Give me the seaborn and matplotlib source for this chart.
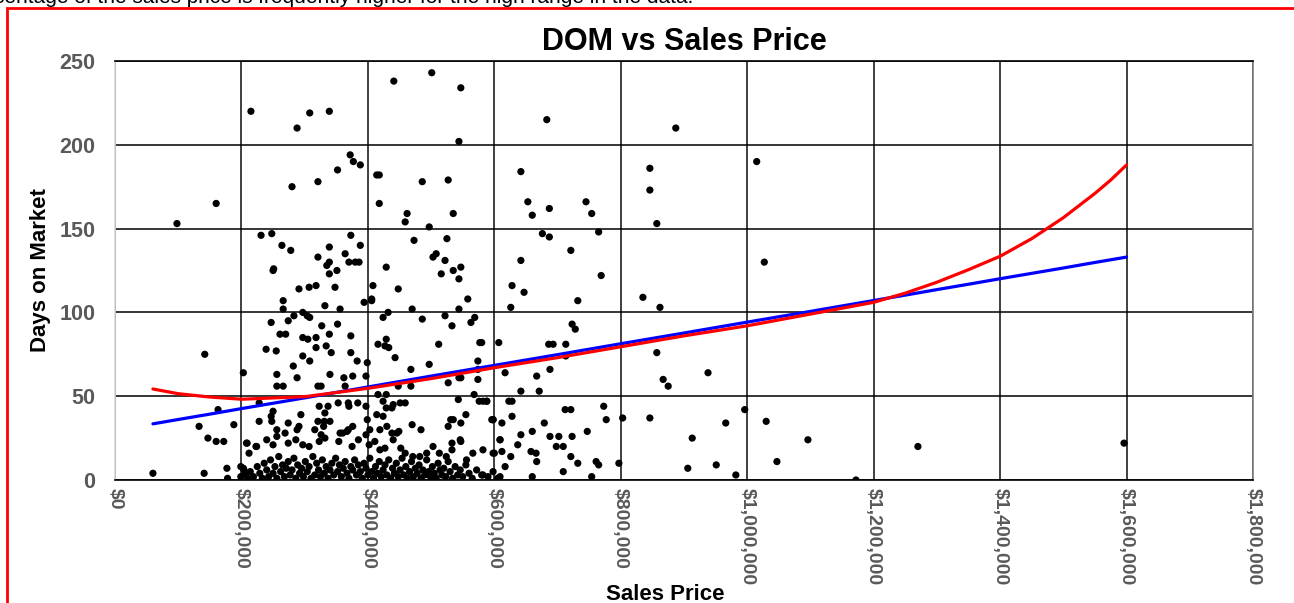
import matplotlib
matplotlib.use("Agg")
import matplotlib.pyplot as plt
import matplotlib.ticker as mticker
from matplotlib.patches import Rectangle
import pandas as pd
import seaborn as sns

# Sales price in thousands of dollars, days on market
price_k = [
    60, 98, 160, 142, 203, 163, 133, 147, 160, 172, 188, 141, 177, 199, 215, 208, 212, 207, 224,
    308, 339, 288, 441, 501, 547, 544, 372, 377, 388, 352, 321, 280, 414, 418, 486, 527, 418,
    462, 459, 497, 535, 231, 248, 264, 278, 339, 373, 388, 364, 321, 473, 525, 503, 508,
    335, 339, 370, 380, 386, 251, 250, 339, 351, 522, 429, 535, 547, 516, 544,
    291, 307, 318, 348, 408, 448, 266, 266, 332, 356, 394, 406, 406, 470, 558, 544,
    283, 297, 304, 308, 274, 247, 327, 352, 424, 432, 486, 522, 533, 563, 569,
    261, 270, 297, 305, 318, 339, 373, 429, 416, 427, 433, 512, 577,
    239, 255, 297, 308, 318, 334, 342, 373, 383, 443, 399, 282, 468, 497, 574, 574, 544,
    256, 288, 340, 362, 376, 397, 256, 266, 321, 326, 364, 448, 468, 527, 547, 574, 568,
    416, 429, 228, 178, 199, 203, 204, 250, 247, 248, 228, 274, 294, 323, 337, 332,
    353, 369, 370, 384, 397, 399, 424, 429, 438, 440, 451, 459, 543, 576, 588, 414, 424,
    321, 331, 340, 555, 531, 596, 291, 288, 256, 330, 316, 376, 367, 356, 403, 419, 430,
    438, 449, 470, 484, 527, 535, 547, 547, 533, 609, 598, 209, 223,
    240, 250, 256, 269, 274, 286, 297, 307, 323, 326, 332, 354, 360, 369, 375, 385, 397,
    402, 411, 419, 427, 440, 446, 452, 459, 471, 482, 493, 503, 513, 524, 533, 546, 556,
    566, 582, 600,
    683, 887, 642, 846, 846, 857, 1015, 653, 687, 660, 745, 754, 765, 676, 687, 721, 642,
    1027, 769, 628, 647, 732, 626, 835, 862, 723, 728, 580, 607, 686, 693, 713, 713, 617,
    688, 667, 857, 867, 875, 938, 642, 671, 582, 588, 623, 628, 712, 721, 773, 598, 612,
    628, 679, 777, 803, 846, 996, 1030, 966, 642, 660, 688, 702, 723, 747, 609, 637, 698,
    709, 913, 1096, 598, 612, 626, 658, 666, 667, 721, 732, 761, 765, 797, 617, 906, 951,
    1047, 982, 582, 609, 660, 709, 754, 1172, 1270, 1596,
    205, 210, 214, 219, 225, 229, 233, 236, 240, 243, 246, 250, 253, 256, 259, 262, 265,
    268, 271, 274, 277, 280, 283, 286, 289, 292, 295, 298, 301, 304, 307, 310, 313, 316,
    319, 322, 325, 328, 331, 334, 337, 340, 343, 346, 349, 352, 355, 358, 361, 364, 367,
    370, 373, 376, 379, 382, 385, 388, 391, 394, 397, 400, 403, 406, 409, 412, 415, 418,
    421, 424, 427, 430, 433, 436, 439, 442, 445, 448, 451, 454, 457, 460, 463, 466, 469,
    472, 475, 478, 481, 484, 487, 490, 493, 496, 499, 502, 505, 508, 511, 514, 517, 520,
    523, 527, 530, 534, 538, 542, 546, 550, 555, 560, 565, 572, 580, 590, 598, 605,
]
days = [
    4, 153, 165, 75, 64, 42, 32, 25, 23, 23, 33, 4, 7, 8, 220, 22, 16, 4, 20,
    219, 220, 210, 238, 243, 234, 202, 194, 190, 188, 185, 178, 175, 182, 182, 178, 179, 165,
    159, 154, 151, 159, 146, 147, 140, 137, 139, 146, 140, 135, 133, 143, 144, 133, 135,
    128, 130, 130, 130, 130, 126, 125, 123, 125, 131, 127, 125, 127, 123, 120,
    114, 115, 116, 115, 116, 114, 107, 102, 104, 102, 106, 107, 108, 102, 108, 102,
    98, 100, 98, 97, 95, 94, 92, 93, 97, 100, 96, 98, 92, 94, 97,
    87, 87, 85, 84, 85, 87, 86, 84, 81, 80, 79, 81, 82,
    78, 77, 74, 71, 79, 80, 76, 76, 71, 73, 70, 68, 66, 69, 71, 66, 61,
    63, 61, 63, 61, 62, 62, 56, 56, 56, 56, 56, 56, 56, 58, 61, 60, 51,
    51, 51, 46, 1, 2, 7, 6, 41, 38, 35, 35, 34, 39, 44, 44, 40,
    46, 46, 44, 46, 44, 36, 47, 43, 43, 45, 46, 46, 48, 47, 47, 39, 38,
    35, 35, 35, 39, 36, 36, 32, 30, 30, 32, 30, 32, 29, 28, 30, 30, 32,
    28, 29, 33, 30, 32, 36, 34, 23, 22, 24, 36, 22, 20,
    24, 21, 26, 28, 22, 24, 21, 20, 23, 27, 25, 23, 28, 30, 20, 24, 27,
    21, 23, 18, 19, 24, 28, 19, 16, 14, 14, 16, 20, 16, 14, 18, 24, 12,
    16, 18, 16,
    215, 210, 184, 186, 173, 153, 190, 166, 162, 158, 166, 159, 148, 147, 145, 137, 131,
    130, 122, 116, 112, 107, 103, 109, 103, 93, 90, 82, 82, 81, 81, 81, 74, 64,
    66, 62, 76, 60, 56, 64, 53, 53, 47, 47, 47, 47, 42, 42, 44, 36, 34,
    38, 34, 36, 37, 37, 42, 35, 34, 27, 29, 26, 26, 26, 29, 24, 21, 20,
    20, 25, 24, 16, 17, 14, 17, 16, 11, 14, 10, 11, 9, 10, 8, 7, 9,
    11, 3, 3, 2, 2, 5, 2, 0, 20, 22,
    3, 1, 5, 2, 8, 4, 1, 10, 6, 2, 12, 4, 8, 1, 14, 5, 9,
    2, 7, 11, 3, 6, 13, 1, 9, 4, 7, 2, 11, 5, 8, 1, 14, 3,
    10, 6, 2, 12, 4, 8, 1, 6, 10, 3, 13, 5, 9, 2, 7, 11, 4,
    1, 8, 6, 12, 3, 9, 5, 1, 10, 7, 3, 13, 5, 1, 8, 4, 11,
    2, 6, 9, 3, 12, 1, 7, 4, 10, 2, 6, 13, 3, 8, 1, 5, 11,
    2, 7, 4, 9, 1, 6, 3, 12, 5, 2, 8, 4, 1, 10, 6, 3, 7,
    2, 11, 5, 1, 8, 3, 6, 2, 9, 4, 1, 6, 3, 2, 5, 1,
]

# Trend lines (price in thousands, days)
trend_price_k = [60, 100, 150, 200, 300, 400, 500, 600, 700, 800, 900, 1000, 1100, 1200,
                 1250, 1300, 1350, 1400, 1450, 1500, 1550, 1575, 1600]
linear_days = [33.5, 36.1, 39.3, 42.6, 49.0, 55.5, 62.0, 68.4, 74.8, 81.3, 87.7, 94.2, 100.6, 107.1,
               110.3, 113.6, 116.8, 120.1, 123.3, 126.5, 129.8, 131.4, 133.0]
poly_days = [54.3, 51.5, 49.5, 48.2, 49.7, 54.7, 60.5, 67.0, 73.0, 79.5, 86.0, 92.0, 99.0, 106.0,
             111.5, 118.0, 125.5, 133.5, 144.0, 156.5, 171.0, 179.0, 188.0]

title = "DOM vs Sales Price"
x_label = "Sales Price"
y_label = "Days on Market"
top_note = "centage of the sales price is frequently higher for the high range in the data."

df = pd.DataFrame({"price": [p * 1000 for p in price_k], "days": days})
trend = pd.DataFrame({"price": [p * 1000 for p in trend_price_k],
                      "linear": linear_days, "poly": poly_days})

sns.set_style("white")
plt.rcParams["font.family"] = ["Liberation Sans", "DejaVu Sans"]

fig = plt.figure(figsize=(12.94, 6.03), dpi=100)
ax = fig.add_axes([115 / 1294, 1 - 480 / 603, (1253 - 115) / 1294, (480 - 61) / 603])

sns.scatterplot(data=df, x="price", y="days", color="black", s=27, edgecolor="none", ax=ax, zorder=3)
sns.lineplot(data=trend, x="price", y="linear", color="#0000ff", lw=2.3, ax=ax, zorder=4)
sns.lineplot(data=trend, x="price", y="poly", color="#ff0000", lw=2.3, ax=ax, zorder=5)

ax.set_xlim(0, 1800000)
ax.set_ylim(0, 250)
ax.xaxis.set_major_locator(mticker.MultipleLocator(200000))
ax.yaxis.set_major_locator(mticker.MultipleLocator(50))
ax.xaxis.set_major_formatter(mticker.FuncFormatter(lambda v, p: "${:,.0f}".format(v)))
ax.grid(axis="y", color="black", lw=1.1)
ax.grid(axis="x", color="#303030", lw=1.3)
ax.set_axisbelow(True)

ax.tick_params(axis="both", length=0, colors="#595959")
ax.tick_params(axis="y", labelsize=15.5, pad=14)
ax.tick_params(axis="x", labelsize=14, pad=6, labelrotation=270)
for lbl in ax.get_yticklabels() + ax.get_xticklabels():
    lbl.set_fontweight("bold")
for lbl in ax.get_xticklabels():
    lbl.set_va("top")

for side in ["top", "bottom"]:
    ax.spines[side].set_color("black")
ax.spines["left"].set_color("#d9d9d9")
ax.spines["right"].set_color("#808080")
for s in ax.spines.values():
    s.set_linewidth(1.2)

ax.set_title(title, fontsize=22, fontweight="bold", pad=8, color="black")
ax.set_xlabel("")
ax.set_ylabel(y_label, fontsize=16, fontweight="bold", labelpad=6, color="black")
fig.text(665 / 1294, 1 - 594 / 603, x_label, ha="center", va="center", fontsize=16,
         fontweight="bold", color="black")

# red border and clipped caption above it
fig.patches.append(Rectangle((7 / 1294, -0.1), 1.2, 1 - 8 / 603 + 0.1, transform=fig.transFigure,
                             fill=False, edgecolor="#ff0000", lw=2))
fig.text(-0.005, 1 - 3 / 603, top_note, ha="left", va="baseline", fontsize=15, color="black")

fig.savefig("out.png", dpi=100)
